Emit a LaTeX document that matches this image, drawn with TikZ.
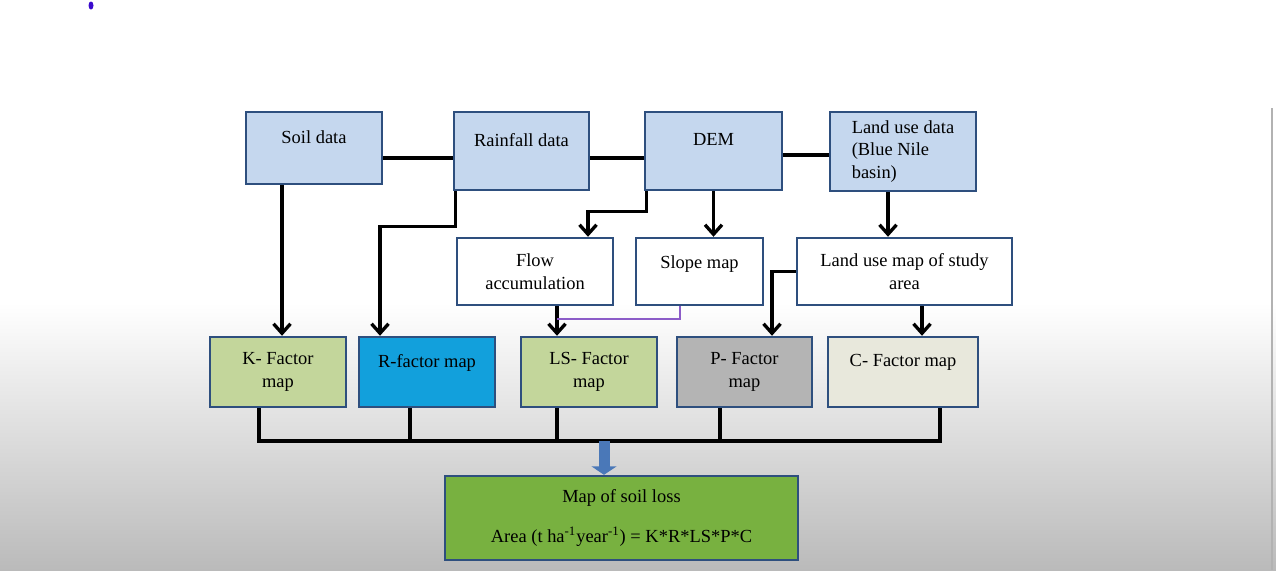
\documentclass[tikz,border=0pt]{standalone}
\usepackage{fontspec}
\setmainfont{Liberation Serif}
\usetikzlibrary{arrows,arrows.meta,positioning}
\definecolor{edgeblue}{HTML}{2E4F7E}
\definecolor{datablue}{HTML}{C5D7EE}
\definecolor{kgreen}{HTML}{C3D69B}
\definecolor{rblue}{HTML}{12A0DC}
\definecolor{pgrey}{HTML}{B4B4B4}
\definecolor{cbeige}{HTML}{E8E8DC}
\definecolor{lossgreen}{HTML}{78B140}
\definecolor{linkpurple}{HTML}{8C5CC8}
\definecolor{arrowblue}{HTML}{4A78B8}
\definecolor{dotblue}{HTML}{3A0ACD}

\begin{document}
\begin{tikzpicture}[-,auto]
\tikzstyle{box}=[rectangle,draw=edgeblue,line width=1.4pt,align=center,inner sep=2pt,font=\fontsize{10.5}{13}\selectfont]
\tikzstyle{data}=[box,fill=datablue,minimum height=1.56cm]
\tikzstyle{mid}=[box,fill=white,minimum height=1.34cm]
\tikzstyle{factor}=[box,minimum height=1.40cm]
\tikzstyle{raise}=[text depth=4.5mm]
\tikzstyle{link}=[draw=black,line width=1.9pt]
\tikzstyle{arr}=[link,-{Straight Barb[length=1.9mm,width=3.4mm]}]
% background
\useasboundingbox (0,0) rectangle (25.52,-11.40);
\fill[white] (0,0) rectangle (25.52,-6.06);
\shade[top color=white,bottom color=black!27] (0,-6.06) rectangle (25.52,-11.40);
\draw[black!30,line width=1.5pt] (25.44,-2.16) -- (25.44,-11.40);
\fill[dotblue] (1.82,-0.11) ellipse (0.05 and 0.08);
% input data
\node [data,raise,minimum width=2.72cm,minimum height=1.44cm] (soil) at(6.28,-2.96) {Soil data};
\node [data,raise,minimum width=2.70cm] (rain) at(10.43,-3.02) {Rainfall data};
\node [data,raise,minimum width=2.74cm] (dem) at(14.27,-3.02) {DEM};
\node [data,align=left,minimum width=2.92cm,minimum height=1.58cm] (landdata) at(18.06,-3.03) {Land use data\\(Blue Nile\\basin)};
% intermediate maps
\node [mid,minimum width=3.12cm] (flow) at(10.70,-5.43) {Flow\\accumulation};
\node [mid,text depth=3.8mm,minimum width=2.54cm] (slope) at(13.99,-5.43) {Slope map};
\node [mid,minimum width=4.30cm] (landmap) at(18.09,-5.43) {Land use map of study\\area};
% factor maps
\node [factor,fill=kgreen,minimum width=2.72cm] (kmap) at(5.56,-7.44) {K- Factor\\map};
\node [factor,raise,fill=rblue,minimum width=2.72cm] (rmap) at(8.54,-7.44) {R-factor map};
\node [factor,fill=kgreen,minimum width=2.72cm] (lsmap) at(11.78,-7.44) {LS- Factor\\map};
\node [factor,fill=pgrey,minimum width=2.70cm] (pmap) at(14.89,-7.44) {P- Factor\\map};
\node [factor,raise,fill=cbeige,minimum width=3.00cm] (cmap) at(18.06,-7.44) {C- Factor map};
\node [box,fill=lossgreen,minimum width=7.06cm,minimum height=1.68cm] (soilloss) at(12.43,-10.36) {Map of soil loss\\[10pt]Area (t ha\textsuperscript{-1}year\textsuperscript{-1}) = K*R*LS*P*C};
\coordinate (bus) at(0,-8.82);
% links between the data boxes
\path[link] ([yshift=-2mm]soil.east) -- ([yshift=-2mm]soil.east -| rain.west);
\path[link] ([yshift=-1.4mm]rain.east) -- ([yshift=-1.4mm]dem.west);
\path[link] ([yshift=-0.8mm]dem.east) -- ([yshift=-0.8mm]dem.east -| landdata.west);
% arrows down
\path[arr] ([xshift=-6.4mm]soil.south) -- ([xshift=-6.4mm]soil.south |- kmap.north);
\path[arr] ([xshift=0.5mm]rain.south west) -- ++(0,-0.70) -| ([xshift=-9.4mm]rmap.north);
\path[arr] ([xshift=0.5mm]dem.south west) -- ++(0,-0.40) -| ([xshift=10.6mm]flow.north);
\path[arr] (dem.south) -- (dem.south |- slope.north);
\path[arr] ([xshift=-3.0mm]landdata.south) -- ([xshift=-3.0mm]landdata.south |- landmap.north);
\path[arr] ([xshift=4.4mm]flow.south) -- ([xshift=4.4mm]flow.south |- lsmap.north);
\path[draw=linkpurple,line width=1.3pt] ([xshift=-3.9mm]slope.south) |- ([xshift=4.4mm,yshift=-2.6mm]flow.south);
\path[arr] (landmap.west) -| ([xshift=5.5mm]pmap.north);
\path[arr] ([xshift=3.5mm]landmap.south) -- ([xshift=3.5mm]landmap.south |- cmap.north);
% factor maps to the bus
\path[link] ([xshift=-3.8mm]kmap.south) -- ([xshift=-3.8mm]kmap.south |- bus) -- ([xshift=7.4mm]cmap.south |- bus) -- ([xshift=7.4mm]cmap.south);
\foreach \m/\s in {rmap/-3.4,lsmap/-6.4,pmap/-4.9}
  \path[link] ([xshift=\s mm]\m.south) -- ([xshift=\s mm]\m.south |- bus);
\path[draw=arrowblue,line width=2.2mm,-{Triangle[length=1.7mm,width=5.0mm]}] ([xshift=-3.5mm]soilloss.north |- bus) -- ([xshift=-3.5mm]soilloss.north);
\end{tikzpicture}
\end{document}
